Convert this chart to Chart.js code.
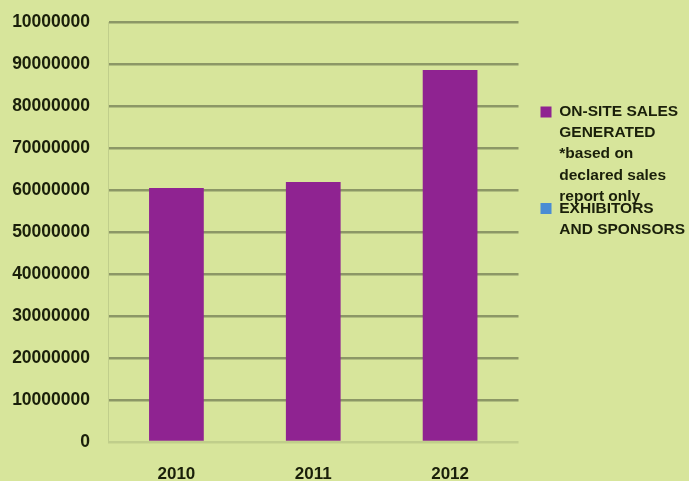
<!DOCTYPE html>
<html>
<head>
<meta charset="utf-8">
<script src="https://cdn.jsdelivr.net/npm/chart.js@4"></script>
<style>
  html, body { margin: 0; padding: 0; background: #d7e59b; }
  #salesChart { display: block; }
</style>
</head>
<body>
<canvas id="salesChart" width="689" height="481"></canvas>
<script>
// values
const years = ["2010", "2011", "2012"];
const onSiteSales = [60500000, 61900000, 88600000];
const exhibitors = [];
const yTickLabels = ["0", "10000000", "20000000", "30000000", "40000000",
  "50000000", "60000000", "70000000", "80000000", "90000000", "10000000"];
const salesLabel = ["ON-SITE SALES", "GENERATED", "*based on", "declared sales", "report only"];
const exhibitorsLabel = ["EXHIBITORS", "AND SPONSORS"];

const textColor = "#1a1f0a";
const fontFamily = "'Liberation Sans', Arial, sans-serif";

let ctx = document.getElementById("salesChart").getContext("2d");

let salesChart = new Chart(ctx, {
  type: "bar",
  data: {
    labels: years,
    datasets: [
      { label: salesLabel, data: onSiteSales, backgroundColor: "#8f2391", borderWidth: 0 },
      { label: exhibitorsLabel, data: exhibitors, backgroundColor: "#4a8cd4", borderWidth: 0 },
    ],
  },
  options: {
    responsive: false,
    animation: false,
    datasets: {
      bar: { grouped: false, categoryPercentage: 1, barPercentage: 0.4 },
    },
    layout: { padding: { top: 22, left: 12, right: -6, bottom: 0 } },
    scales: {
      x: {
        grid: { display: false, drawTicks: false },
        border: { display: false },
        ticks: {
          color: textColor,
          padding: 23.5,
          font: { family: fontFamily, size: 17, weight: "bold", lineHeight: 1 },
        },
        afterFit: (scale) => { scale.height = 39; },
      },
      y: {
        min: 0,
        max: 100000000,
        grid: {
          drawTicks: true,
          tickLength: 14,
          tickColor: "rgba(0,0,0,0)",
          lineWidth: 2.5,
          color: (c) => (c.tick && c.tick.value === 0 ? "rgba(140,151,102,0.3)" : "#8c9766"),
        },
        border: { color: "rgba(140,151,102,0.3)", width: 1 },
        ticks: {
          stepSize: 10000000,
          color: textColor,
          padding: 4,
          font: { family: fontFamily, size: 17.5, weight: "bold" },
          callback: (value, index) => yTickLabels[index],
        },
        afterFit: (scale) => { scale.width = 96; },
      },
      // empty space between the plot and the legend
      gap: {
        position: "right",
        type: "linear",
        grid: { display: false },
        border: { display: false },
        ticks: { display: false },
        afterFit: (scale) => { scale.width = 22; },
      },
    },
    plugins: {
      legend: {
        display: true,
        position: "right",
        align: "start",
        fullSize: false,
        maxWidth: 220,
        title: { display: true, text: "", font: { size: 10, lineHeight: 1 }, padding: { top: 0, bottom: 81.25 } },
        labels: {
          color: textColor,
          boxWidth: 20,
          boxHeight: 11,
          padding: -9,
          font: { family: fontFamily, size: 15.5, weight: "bold", lineHeight: 1.36 },
        },
      },
      tooltip: { enabled: false },
    },
  },
});
</script>
</body>
</html>
